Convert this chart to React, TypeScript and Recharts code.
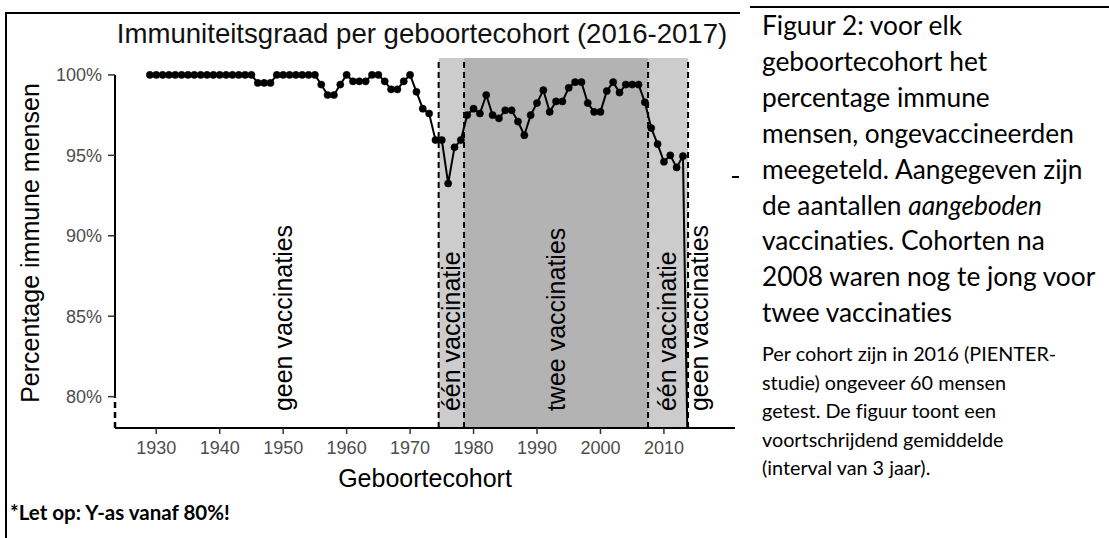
import { LineChart, Line, XAxis, YAxis, ReferenceArea, ReferenceLine, ReferenceDot } from 'recharts';

// geboortecohort (jaar) en percentage immune mensen (voortschrijdend gemiddelde)
const cohorts = [
  1929, 1930, 1931, 1932, 1933, 1934, 1935, 1936, 1937, 1938, 1939, 1940, 1941, 1942, 1943, 1944, 1945,
  1946, 1947, 1948, 1949, 1950, 1951, 1952, 1953, 1954, 1955, 1956, 1957, 1958, 1959, 1960, 1961, 1962,
  1963, 1964, 1965, 1966, 1967, 1968, 1969, 1970, 1971, 1972, 1973, 1974, 1975, 1976, 1977, 1978, 1979,
  1980, 1981, 1982, 1983, 1984, 1985, 1986, 1987, 1988, 1989, 1990, 1991, 1992, 1993, 1994, 1995, 1996,
  1997, 1998, 1999, 2000, 2001, 2002, 2003, 2004, 2005, 2006, 2007, 2008, 2009, 2010, 2011, 2012, 2013,
  2014,
];
const immune = [
  100, 100, 100, 100, 100, 100, 100, 100, 100, 100, 100, 100, 100, 100, 100, 100, 100,
  99.5, 99.5, 99.5, 100, 100, 100, 100, 100, 100, 100, 99.4, 98.75, 98.75, 99.4, 100, 99.6, 99.6,
  99.6, 100, 100, 99.6, 99.1, 99.1, 99.6, 100, 98.95, 97.9, 97.6, 95.95, 95.95, 93.25, 95.5, 95.95, 97.5,
  97.9, 97.6, 98.75, 97.5, 97.3, 97.8, 97.8, 97.1, 96.25, 97.5, 98.25, 99.05, 97.7, 98.35, 98.35, 99.2, 99.55,
  99.55, 98.25, 97.7, 97.7, 99.0, 99.55, 98.9, 99.4, 99.4, 99.4, 98.3, 96.7, 95.7, 94.6, 95.0, 94.25, 94.95,
  70,
];

const xTicks = [1930, 1940, 1950, 1960, 1970, 1980, 1990, 2000, 2010];
const yTicks = [80, 85, 90, 95, 100];

// vaccinatieperiodes
const oneDoseBand = [1974.5, 2013.8];
const twoDoseBand = [1978.5, 2007.5];
const dividers = [1974.5, 1978.5, 2007.5, 2013.8];
const periodX = [1950, 1976.5, 1993, 2010.5, 2015.6];
const periodLabels = ['geen vaccinaties', 'één vaccinatie', 'twee vaccinaties', 'één vaccinatie', 'geen vaccinaties'];

const X_MIN = 1923.5;
const X_MAX = 2021.2;
const Y_MIN = 78.05;
const Y_MAX = 101.05;

const data = cohorts.map((year, i) => ({ year, value: immune[i] }));

const chartFont = '"Liberation Sans", Arial, sans-serif';
const noteFont = 'Lato, "Open Sans", sans-serif';

const bigNote = [
  'Figuur 2: voor elk',
  'geboortecohort het',
  'percentage immune',
  'mensen, ongevaccineerden',
  'meegeteld. Aangegeven zijn',
  null,
  'vaccinaties. Cohorten na',
  '2008 waren nog te jong voor',
  'twee vaccinaties',
];
const smallNote = [
  'Per cohort zijn in 2016 (PIENTER-',
  'studie) ongeveer 60 mensen',
  'getest. De figuur toont een',
  'voortschrijdend gemiddelde',
  '(interval van 3 jaar).',
];

function PeriodLabel(props: any) {
  const { cx, cy, text } = props;
  return (
    <text
      x={cx}
      y={cy}
      transform={`rotate(-90, ${cx}, ${cy})`}
      textAnchor="start"
      dominantBaseline="central"
      fontSize={25}
      fill="#000"
      fontFamily={chartFont}
    >
      {text}
    </text>
  );
}

export default function App() {
  return (
    <div
      style={{
        position: 'absolute',
        left: 0,
        top: 0,
        width: 1109,
        height: 538,
        background: '#fff',
        overflow: 'hidden',
      }}
    >
      {/* kaders */}
      <div style={{ position: 'absolute', left: 5, top: 12, width: 2, height: 526, background: '#000' }} />
      <div style={{ position: 'absolute', left: 5, top: 12, width: 735, height: 2, background: '#000' }} />
      <div style={{ position: 'absolute', left: 750, top: 6, width: 359, height: 2, background: '#000' }} />
      <div style={{ position: 'absolute', left: 732, top: 176, width: 7, height: 2, background: '#000' }} />

      <div style={{ position: 'absolute', left: 0, top: 0 }}>
        <LineChart
          width={740}
          height={458}
          data={data}
          margin={{ top: 58, right: 5, bottom: 0, left: 55 }}
          style={{ fontFamily: chartFont }}
        >
          <ReferenceArea x1={oneDoseBand[0]} x2={oneDoseBand[1]} fill="#cccccc" fillOpacity={1} stroke="none" />
          <ReferenceArea x1={twoDoseBand[0]} x2={twoDoseBand[1]} fill="#b3b3b3" fillOpacity={1} stroke="none" />
          <XAxis
            dataKey="year"
            type="number"
            domain={[X_MIN, X_MAX]}
            allowDataOverflow
            ticks={xTicks}
            height={30}
            axisLine={{ stroke: '#000', strokeWidth: 2 }}
            tickLine={{ stroke: '#333', strokeWidth: 1.5 }}
            tickSize={6}
            tickMargin={7}
            tick={{ fill: '#4d4d4d', fontSize: 18 }}
          />
          <YAxis
            type="number"
            domain={[Y_MIN, Y_MAX]}
            allowDataOverflow
            ticks={yTicks}
            width={60}
            axisLine={false}
            tickLine={{ stroke: '#333', strokeWidth: 1.5 }}
            tickSize={7}
            tickMargin={6}
            tickFormatter={(v: number) => `${v}%`}
            tick={{ fill: '#4d4d4d', fontSize: 18 }}
          />
          <ReferenceLine
            segment={[{ x: X_MIN, y: 80 }, { x: X_MIN, y: 100 }]}
            stroke="#000"
            strokeWidth={2}
          />
          <ReferenceLine
            segment={[{ x: X_MIN, y: Y_MIN }, { x: X_MIN, y: 80 }]}
            stroke="#000"
            strokeWidth={2.5}
            strokeDasharray="6 4"
          />
          <Line
            dataKey="value"
            stroke="#000"
            strokeWidth={2}
            dot={{ r: 3.6, fill: '#000', stroke: '#000', strokeWidth: 0.5 }}
            isAnimationActive={false}
          />
          {dividers.map((x) => (
            <ReferenceLine key={x} x={x} stroke="#000" strokeWidth={2} strokeDasharray="6 4" />
          ))}
          {periodX.map((x, i) => (
            <ReferenceDot
              key={i}
              x={x}
              y={79.1}
              r={0}
              shape={(p: any) => <PeriodLabel cx={p.cx} cy={p.cy} text={periodLabels[i]} />}
            />
          ))}
        </LineChart>
      </div>

      <svg width={740} height={538} style={{ position: 'absolute', left: 0, top: 0, pointerEvents: 'none' }}>
        <text x={422} y={33} textAnchor="middle" dominantBaseline="central" fontSize={27.6} fill="#111" fontFamily={chartFont}>
          Immuniteitsgraad per geboortecohort (2016-2017)
        </text>
        <text
          x={30}
          y={243}
          transform="rotate(-90, 30, 243)"
          textAnchor="middle"
          dominantBaseline="central"
          fontSize={25}
          fill="#000"
          fontFamily={chartFont}
        >
          Percentage immune mensen
        </text>
        <text x={425} y={478} textAnchor="middle" dominantBaseline="central" fontSize={25} fill="#000" fontFamily={chartFont}>
          Geboortecohort
        </text>
      </svg>

      <div
        style={{
          position: 'absolute',
          left: 762,
          top: 8,
          fontFamily: noteFont,
          fontSize: 26.3,
          lineHeight: '35.9px',
          color: '#000',
          whiteSpace: 'pre',
          fontVariantLigatures: 'none',
        }}
      >
        {bigNote.map((line, i) =>
          line === null ? (
            <div key={i}>
              de aantallen <i>aangeboden</i>
            </div>
          ) : (
            <div key={i}>{line}</div>
          ),
        )}
      </div>

      <div
        style={{
          position: 'absolute',
          left: 762,
          top: 339,
          fontFamily: noteFont,
          fontSize: 19.8,
          lineHeight: '28.5px',
          color: '#000',
          whiteSpace: 'pre',
          fontVariantLigatures: 'none',
        }}
      >
        {smallNote.map((line, i) => (
          <div key={i}>{line}</div>
        ))}
      </div>

      <div
        style={{
          position: 'absolute',
          left: 10,
          top: 497,
          fontFamily: noteFont,
          fontSize: 20.5,
          fontWeight: 700,
          lineHeight: '30px',
          color: '#000',
          whiteSpace: 'pre',
        }}
      >
        *Let op: Y-as vanaf 80%!
      </div>
    </div>
  );
}
